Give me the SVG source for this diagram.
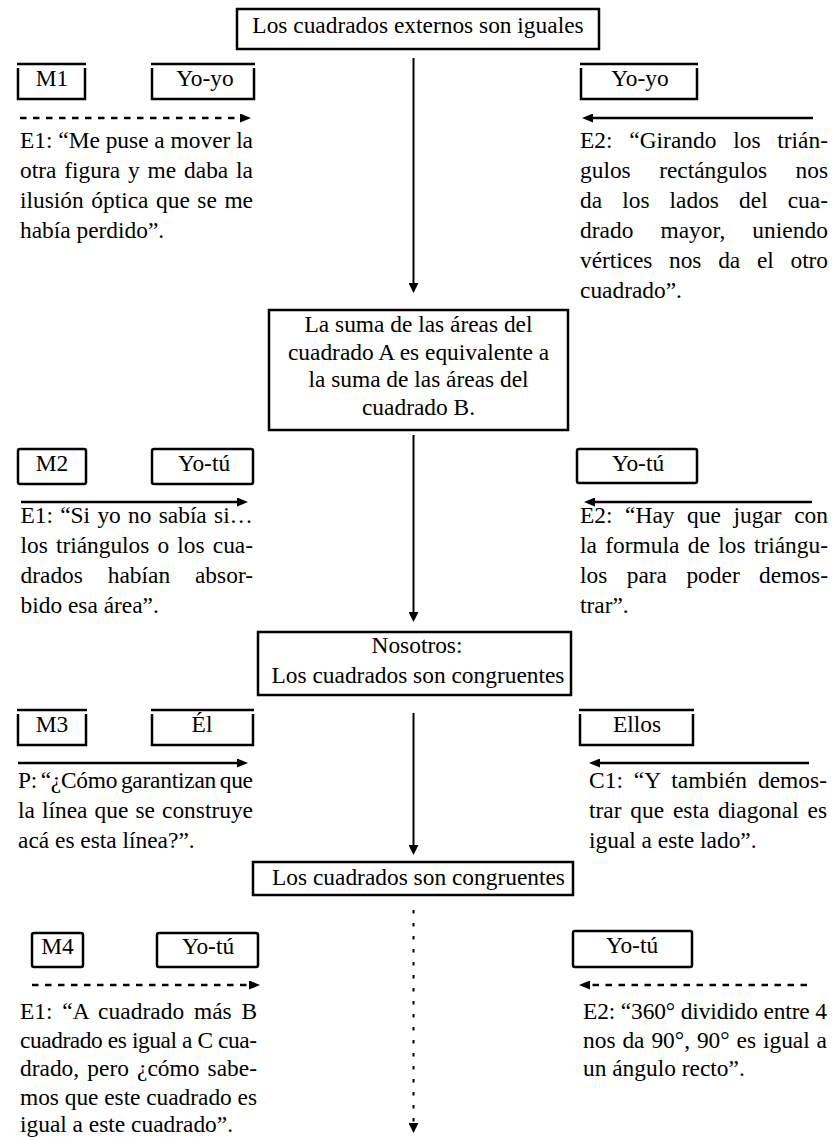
<svg xmlns="http://www.w3.org/2000/svg" width="834" height="1137" viewBox="0 0 834 1137">
<style>
text{font-family:"Liberation Serif","Times New Roman",serif;font-size:23.4px;fill:#000}
.c{text-anchor:middle}
.box{fill:none;stroke:#000;stroke-width:2.5}
.ln{fill:none;stroke:#000;stroke-width:2.5}
.v{fill:none;stroke:#000;stroke-width:2}
.dash{stroke-dasharray:6.5 6.5}
.dot{stroke-dasharray:3.5 9.5}
</style>
<defs>
<marker id="ah" viewBox="0 0 11 9" refX="0" refY="4.5" markerWidth="11" markerHeight="9" markerUnits="userSpaceOnUse" orient="auto"><path d="M0,0 L11,4.5 L0,9 z" fill="#000"/></marker>
<marker id="av" viewBox="0 0 10 10" refX="0" refY="5" markerWidth="10" markerHeight="10" markerUnits="userSpaceOnUse" orient="auto"><path d="M0,0 L10,5 L0,10 z" fill="#000"/></marker>
</defs>

<g id="connectors">
<path class="v" d="M413.5,58 V283" marker-end="url(#av)"/>
<path class="v" d="M413.5,435 V612" marker-end="url(#av)"/>
<path class="v" d="M413.5,713 V845" marker-end="url(#av)"/>
<path class="v dot" stroke-width="2.5" d="M413.5,910 V1123" marker-end="url(#av)"/>
<path class="ln dash" d="M20,118 H240" marker-end="url(#ah)"/>
<path class="ln" d="M813,118 H593" marker-end="url(#ah)"/>
<path class="ln" d="M21,502 H237" marker-end="url(#ah)"/>
<path class="ln" d="M812,502 H595" marker-end="url(#ah)"/>
<path class="ln" d="M18,763 H237" marker-end="url(#ah)"/>
<path class="ln" d="M809,763 H600" marker-end="url(#ah)"/>
<path class="ln dash" d="M32,985 H249" marker-end="url(#ah)"/>
<path class="ln dash" d="M807,985 H590" marker-end="url(#ah)"/>
</g>

<g id="n-externos">
<rect class="box" x="237" y="9" width="362" height="40"/>
<text class="c" x="418" y="33">Los cuadrados externos son iguales</text>
</g>

<g id="n-suma">
<rect class="box" x="269" y="310" width="299" height="120"/>
<text class="c" x="418.5" y="332">La suma de las áreas del</text>
<text class="c" x="418.5" y="359.7">cuadrado A es equivalente a</text>
<text class="c" x="418.5" y="387.3">la suma de las áreas del</text>
<text class="c" x="418.5" y="415">cuadrado B.</text>
</g>

<g id="n-nosotros">
<rect class="box" x="258" y="632" width="313" height="63"/>
<text class="c" x="417" y="653">Nosotros:</text>
<text class="c" x="418" y="683">Los cuadrados son congruentes</text>
</g>

<g id="n-congruentes">
<rect class="box" x="253" y="862" width="320" height="33"/>
<text class="c" x="418.5" y="885">Los cuadrados son congruentes</text>
</g>

<!-- Row 1 -->
<g id="m1">
<path class="box" d="M17,64 H86 M18,68 V99 H85 V68"/>
<text class="c" x="52" y="86">M1</text>
</g>
<g id="yoyo-left">
<path class="box" d="M151,64 H255 M152,68 V99 H254 V68"/>
<text class="c" x="205" y="86">Yo-yo</text>
</g>
<g id="yoyo-right">
<path class="box" d="M580,64 H698 M581,68 V99 H697 V68"/>
<text class="c" x="640" y="86">Yo-yo</text>
</g>
<g id="t1-left">
<text x="20" y="148" textLength="233" lengthAdjust="spacing">E1: “Me puse a mover la</text>
<text x="20" y="178" word-spacing="2.02" textLength="233" lengthAdjust="spacing">otra figura y me daba la</text>
<text x="20" y="208" word-spacing="1.7" textLength="233" lengthAdjust="spacing">ilusión óptica que se me</text>
<text x="20" y="238">había perdido”.</text>
</g>
<g id="t1-right">
<text x="580" y="148" word-spacing="10.96" textLength="248" lengthAdjust="spacing">E2: “Girando los trián-</text>
<text x="580" y="178" word-spacing="22.6" textLength="248" lengthAdjust="spacing">gulos rectángulos nos</text>
<text x="580" y="208" word-spacing="14.2" textLength="248" lengthAdjust="spacing">da los lados del cua-</text>
<text x="580" y="238" word-spacing="21" textLength="248" lengthAdjust="spacing">drado mayor, uniendo</text>
<text x="580" y="268" word-spacing="11" textLength="248" lengthAdjust="spacing">vértices nos da el otro</text>
<text x="580" y="298">cuadrado”.</text>
</g>

<!-- Row 2 -->
<g id="m2">
<rect class="box" x="18" y="449" width="68" height="35" rx="2"/>
<text class="c" x="52" y="471">M2</text>
</g>
<g id="yotu-left-2">
<rect class="box" x="152" y="449" width="101" height="35" rx="2"/>
<text class="c" x="204" y="471">Yo-tú</text>
</g>
<g id="yotu-right-2">
<rect class="box" x="577" y="449" width="120" height="34" rx="2"/>
<text class="c" x="638" y="471">Yo-tú</text>
</g>
<g id="t2-left">
<text x="20.5" y="523" word-spacing="1.49" textLength="232.5" lengthAdjust="spacing">E1: “Si yo no sabía si…</text>
<text x="20.5" y="553" word-spacing="2.35" textLength="232.5" lengthAdjust="spacing">los triángulos o los cua-</text>
<text x="20.5" y="583" word-spacing="19" textLength="232.5" lengthAdjust="spacing">drados habían absor-</text>
<text x="20.5" y="613">bido esa área”.</text>
</g>
<g id="t2-right">
<text x="580" y="523" word-spacing="6.76" textLength="248" lengthAdjust="spacing">E2: “Hay que jugar con</text>
<text x="580" y="553" word-spacing="2.53" textLength="248" lengthAdjust="spacing">la formula de los triángu-</text>
<text x="580" y="583" word-spacing="13.56" textLength="248" lengthAdjust="spacing">los para poder demos-</text>
<text x="580" y="613">trar”.</text>
</g>

<!-- Row 3 -->
<g id="m3">
<path class="box" d="M17,710 H87 M18,714 V745 H86 V714"/>
<text class="c" x="52" y="732">M3</text>
</g>
<g id="el">
<path class="box" d="M151,710 H254 M152,714 V745 H253 V714"/>
<text class="c" x="202" y="732">Él</text>
</g>
<g id="ellos">
<path class="box" d="M579,710 H694 M580,714 V745 H693 V714"/>
<text class="c" x="637" y="732">Ellos</text>
</g>
<g id="t3-left">
<text x="18" y="788" word-spacing="-2" textLength="235" lengthAdjust="spacing">P: “¿Cómo garantizan que</text>
<text x="18" y="818" word-spacing="1.24" textLength="235" lengthAdjust="spacing">la línea que se construye</text>
<text x="18" y="848">acá es esta línea?”.</text>
</g>
<g id="t3-right">
<text x="589" y="788" word-spacing="5.02" textLength="238" lengthAdjust="spacing">C1: “Y también demos-</text>
<text x="589" y="818" word-spacing="2.97" textLength="238" lengthAdjust="spacing">trar que esta diagonal es</text>
<text x="589" y="848">igual a este lado”.</text>
</g>

<!-- Row 4 -->
<g id="m4">
<rect class="box" x="32" y="933" width="51" height="34" rx="2"/>
<text class="c" x="57.5" y="954">M4</text>
</g>
<g id="yotu-left-4">
<rect class="box" x="157" y="933" width="101" height="34" rx="2"/>
<text class="c" x="208" y="954">Yo-tú</text>
</g>
<g id="yotu-right-4">
<rect class="box" x="573" y="931" width="119" height="36" rx="2"/>
<text class="c" x="632" y="953">Yo-tú</text>
</g>
<g id="t4-left">
<text x="20" y="1019" word-spacing="3.69" textLength="237" lengthAdjust="spacing">E1: “A cuadrado más B</text>
<text x="20" y="1047.5" textLength="237" lengthAdjust="spacing">cuadrado es igual a C cua-</text>
<text x="20" y="1076" word-spacing="2.3" textLength="237" lengthAdjust="spacing">drado, pero ¿cómo sabe-</text>
<text x="20" y="1104.5" textLength="237" lengthAdjust="spacing">mos que este cuadrado es</text>
<text x="20" y="1132">igual a este cuadrado”.</text>
</g>
<g id="t4-right">
<text x="583" y="1019" textLength="244" lengthAdjust="spacing">E2: “360° dividido entre 4</text>
<text x="583" y="1047.5" word-spacing="1.04" textLength="244" lengthAdjust="spacing">nos da 90°, 90° es igual a</text>
<text x="583" y="1076">un ángulo recto”.</text>
</g>
</svg>
